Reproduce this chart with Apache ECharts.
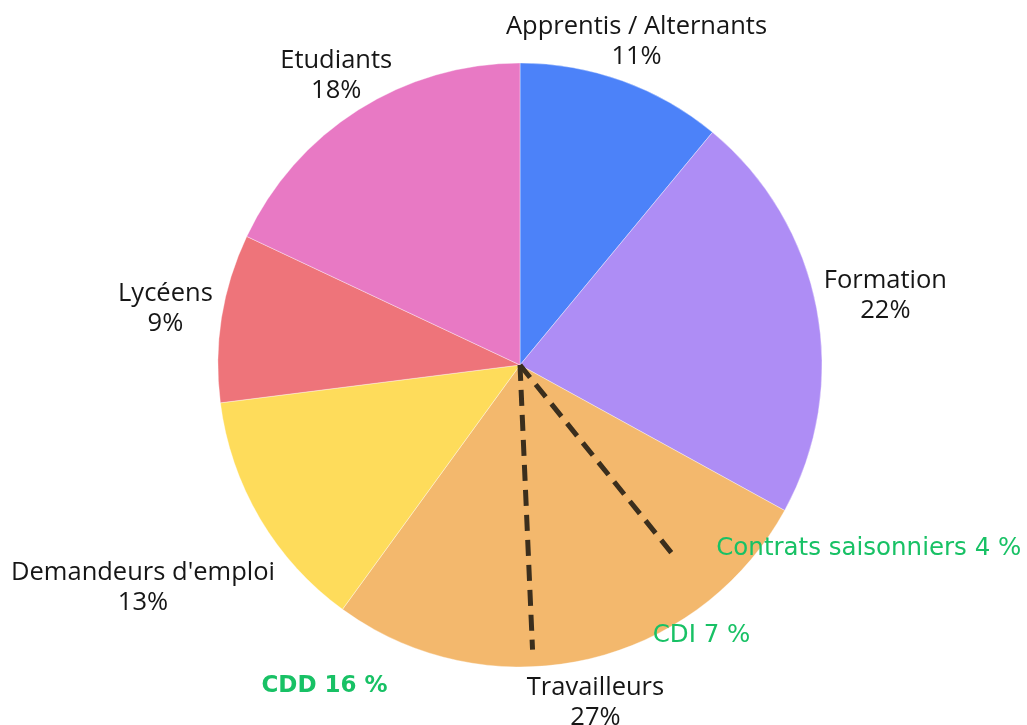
<!DOCTYPE html>
<html>
<head>
<meta charset="utf-8">
<title>Répartition des publics</title>
<script src="https://cdn.jsdelivr.net/npm/echarts@6/dist/echarts.min.js"></script>
<style>
  html, body { margin: 0; padding: 0; background: #fff; }
  #chart { width: 1027px; height: 725px; }
</style>
</head>
<body>
<div id="chart"></div>
<script>
// Data
// ------------------------------

var categories = ["Apprentis / Alternants", "Formation", "Travailleurs", "Demandeurs d'emploi", "Lycéens", "Etudiants"];
var shares = [11, 22, 27, 13, 9, 18];
var sliceColors = ["#4c82f9", "#ae8df5", "#f3b86d", "#fedc5b", "#ee747a", "#e879c4"];

// Travailleurs breakdown
var subNames = ["Contrats saisonniers", "CDI", "CDD"];
var subShares = [4, 7, 16];
// where the two dashed dividers sit, in % of the full circle
var dividerAt = [39.2, 49.3];

// Layout constants (not data)
var CX = 520, CY = 365, R = 302;
var labelRadius = [344, 372, 346, 438, 359, 343];
var dividerLen = [248, 285];
var subLabelPos = [[394, 32.7], [326, 40.6], [376, 58.7]];

var chart = echarts.init(document.getElementById("chart"));

// mid angle of each slice in % of the circle
var cum = 0;
var labelData = categories.map(function (name, i) {
  var mid = cum + shares[i] / 2;
  cum += shares[i];
  return { name: name, value: [labelRadius[i], mid], share: shares[i] };
});

var subLabelData = subNames.map(function (name, i) {
  return { name: name, value: subLabelPos[i], share: subShares[i], bold: i === 2 };
});

var dividerSeries = dividerAt.map(function (a, i) {
  return {
    type: "line",
    coordinateSystem: "polar",
    data: [[0, a], [dividerLen[i], a]],
    symbol: "none",
    silent: true,
    z: 5,
    lineStyle: { color: "#3a2e1d", width: 5, type: [16, 9], cap: "butt" }
  };
});

chart.setOption({
  animation: false,
  textStyle: { fontFamily: "'Open Sans', sans-serif" },
  polar: { center: [CX, CY], radius: 500 },
  angleAxis: {
    type: "value", min: 0, max: 100, startAngle: 90, clockwise: true,
    show: false, splitLine: { show: false }
  },
  radiusAxis: { type: "value", min: 0, max: 500, show: false, splitLine: { show: false } },
  series: [
    {
      type: "pie",
      center: [CX, CY],
      radius: R,
      startAngle: 90,
      clockwise: true,
      label: { show: false },
      labelLine: { show: false },
      itemStyle: { borderColor: "rgba(255,255,255,0.6)", borderWidth: 0.6 },
      data: categories.map(function (c, i) {
        return { name: c, value: shares[i], itemStyle: { color: sliceColors[i] } };
      }),
      z: 1
    },
    {
      type: "scatter",
      coordinateSystem: "polar",
      symbolSize: 0,
      silent: true,
      itemStyle: { opacity: 1 },
      data: labelData,
      label: {
        show: true,
        position: "inside",
        align: "center",
        verticalAlign: "middle",
        color: "#161616",
        fontFamily: "'Open Sans', sans-serif",
        fontWeight: 400,
        fontSize: 25.5,
        lineHeight: 30,
        formatter: function (p) { return p.name + "\n" + p.data.share + "%"; }
      }
    },
    {
      type: "scatter",
      coordinateSystem: "polar",
      symbolSize: 0,
      silent: true,
      itemStyle: { opacity: 1 },
      data: subLabelData,
      label: {
        show: true,
        position: "inside",
        align: "center",
        verticalAlign: "middle",
        color: "#18c165",
        fontFamily: "'DejaVu Sans', sans-serif",
        fontWeight: 400,
        fontSize: 24.5,
        formatter: function (p) {
          var t = p.name + " " + p.data.share + " %";
          return p.data.bold ? "{b|" + t + "}" : t;
        },
        rich: { b: { fontFamily: "'DejaVu Sans', sans-serif", fontWeight: "bold", fontSize: 23, color: "#18c165" } }
      }
    }
  ].concat(dividerSeries)
});
</script>
</body>
</html>
